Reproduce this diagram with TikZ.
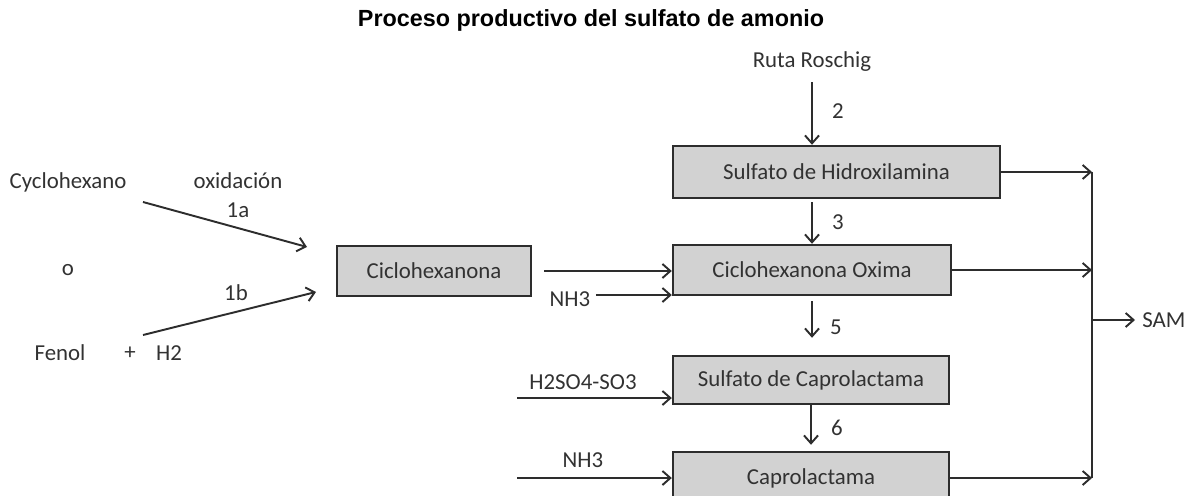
\documentclass[tikz,border=0pt]{standalone}
\usepackage{fontspec}
\setmainfont{Carlito}
\newfontfamily\titlefont{Liberation Sans}
\usetikzlibrary{arrows.meta}
\definecolor{boxgray}{RGB}{210,210,210}
\definecolor{linegray}{RGB}{45,45,45}
\definecolor{textgray}{RGB}{50,50,50}
\tikzset{>={Straight Barb[length=4.5pt,width=8pt]}}
\tikzset{
  flow/.style={->,line width=1.1pt,draw=linegray},
  unit/.style={draw=linegray,line width=1.4pt,fill=boxgray,minimum height=0.96cm,inner sep=0pt,text=textgray},
  lbl/.style={text=textgray,inner sep=0pt}
}

\begin{document}
\begin{tikzpicture}[x=0.02cm,y=-0.02cm,font=\fontsize{13}{15}\selectfont]
    \useasboundingbox (0,0) rectangle (1185,496);
    \clip (0,0) rectangle (1185,496);
    \node[font=\titlefont\bfseries\fontsize{13.3}{15}\selectfont] (title) at (591,20) {Proceso productivo del sulfato de amonio};

    % boxes
    \node[unit,minimum width=6.54cm,minimum height=1.04cm] (hidrox) at (836.5,172) {Sulfato de Hidroxilamina};
    \node[unit,minimum width=5.56cm,minimum height=1.0cm] (oxima) at (812,270) {Ciclohexanona Oxima};
    \node[unit,minimum width=5.52cm] (sulcap) at (811,380) {Sulfato de Caprolactama};
    \node[unit,minimum width=5.52cm,minimum height=1.04cm] (caprol) at (811,478) {Caprolactama};
    \node[unit,minimum width=3.88cm,minimum height=1.0cm] (ciclo) at (434,271) {Ciclohexanona};

    % labels
    \node[lbl] (roschig) at (812,62) {Ruta Roschig};
    \node[lbl] (cyclo) at (68,182) {Cyclohexano};
    \node[lbl] (oxid) at (238,181) {oxidación};
    \node[lbl] (ka) at (238,210) {1a};
    \node[lbl] (kb) at (236,293) {1b};
    \node[lbl] (oo) at (68,270) {o};
    \node[lbl] (fenol) at (60,353) {Fenol};
    \node[lbl] (plus) at (130,353) {+};
    \node[lbl] (htwo) at (169,353) {H2};
    \node[lbl] (nhA) at (570,299) {NH3};
    \node[lbl] (hso) at (583,382) {H2SO4-SO3};
    \node[lbl] (nhB) at (583,460) {NH3};
    \node[lbl,anchor=west] (sam) at (1142,320) {SAM};
    \node[lbl] (n2) at (838,111) {2};
    \node[lbl] (n3) at (838,222) {3};
    \node[lbl] (n5) at (836,327) {5};
    \node[lbl] (n6) at (837,428) {6};

    \coordinate (aS) at (143,202);
    \coordinate (aE) at (307,247);
    \coordinate (bS) at (143,335);
    \coordinate (bE) at (316,292);
    \coordinate (hsIn) at (517,398);
    \coordinate (nhIn) at (517,478);
    \coordinate (busT) at (1092,172);
    \coordinate (busB) at (1092,478);
    \coordinate (busM) at (1092,320);

    % arrows
    \draw[flow] (aS) -- (aE);
    \draw[flow] (bS) -- (bE);
    \draw[flow,shorten <=0.24cm] (ciclo.east) -- (ciclo.east -| oxima.west);
    \draw[flow,shorten <=3pt] ([yshift=0.08cm]nhA.east) -- ([yshift=0.08cm]nhA.east -| oxima.west);
    \draw[flow] (hsIn) -- (hsIn -| sulcap.west);
    \draw[flow] (nhIn) -- (nhIn -| caprol.west);
    \draw[flow,shorten <=0.2cm] (roschig.south) -- (roschig.south |- hidrox.north);
    \draw[flow,shorten <=0.06cm] (hidrox.south -| oxima.north) -- (oxima.north);
    \draw[flow,shorten <=0.1cm,shorten >=0.34cm] (oxima.south) -- (oxima.south |- sulcap.north);
    \draw[flow,shorten >=0.12cm] (sulcap.south) -- (sulcap.south |- caprol.north);
    \draw[flow] (hidrox.east) -- (hidrox.east -| busT);
    \draw[flow] (oxima.east) -- (oxima.east -| busT);
    \draw[flow] (caprol.east) -- (caprol.east -| busT);
    \draw[line width=1.1pt,draw=linegray] (busT) -- (busB);
    \draw[flow,shorten >=0.14cm] (busM) -- (sam.west);
\end{tikzpicture}
\end{document}
